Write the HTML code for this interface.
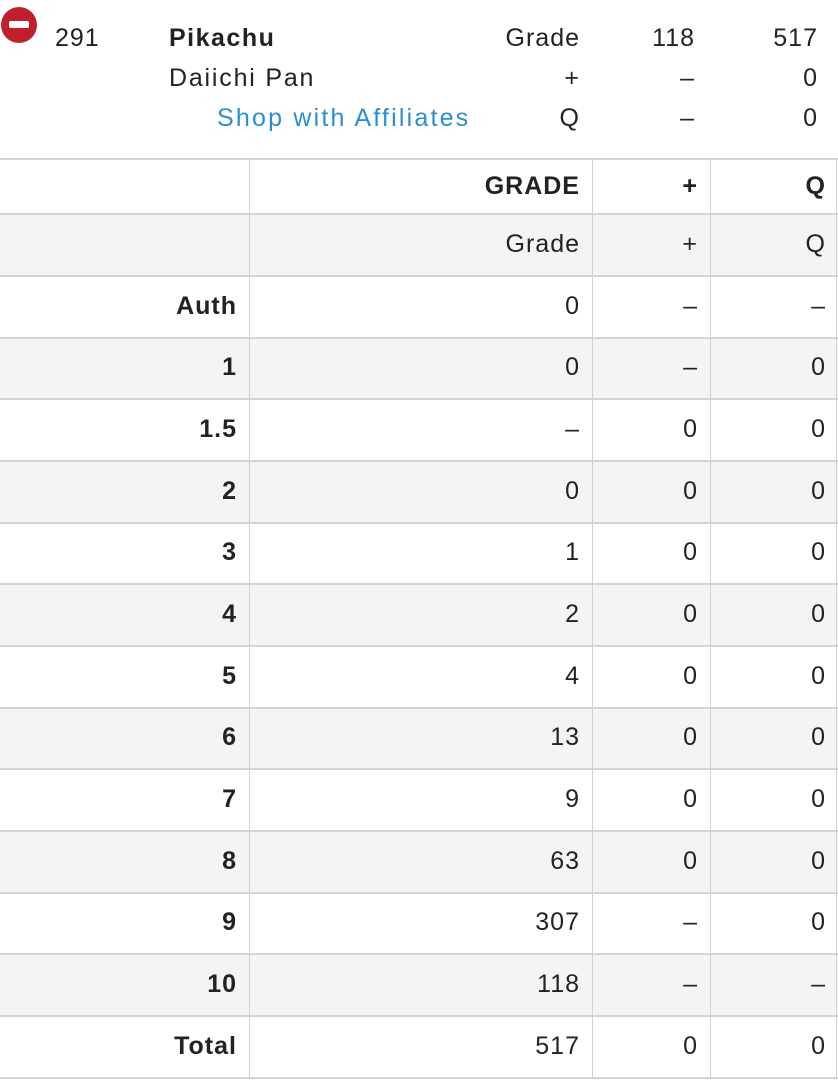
<!DOCTYPE html>
<html><head><meta charset="utf-8"><style>
*{margin:0;padding:0;box-sizing:border-box}
body{width:838px;height:1080px;background:#fff;position:relative;overflow:hidden;font-family:"Liberation Sans",sans-serif;color:#222}
.t{position:absolute;font-size:25px;line-height:30px;white-space:nowrap;letter-spacing:1px}
.r{text-align:right}
.b{font-weight:bold}
.row{position:absolute;left:0;width:838px;border-top:2px solid #d4d4d4}
.g{background:#f4f4f4}
.vl{position:absolute;top:159px;height:920px;width:1px;background:#d0d0d0}
.c0{right:601px;font-weight:bold}
.c1{right:258px}
.c2{right:140px}
.c3{right:12px}
</style></head><body>
<div style="position:absolute;left:1px;top:7px;width:36px;height:36px;border-radius:50%;background:#c0202c"></div>
<div style="position:absolute;left:9px;top:21px;width:20px;height:7px;border-radius:2px;background:#fff"></div>
<div class="t" style="left:55px;top:23px">291</div>
<div class="t b" style="left:169px;top:23px;letter-spacing:1.5px">Pikachu</div>
<div class="t" style="left:169px;top:63px;letter-spacing:1.8px">Daiichi Pan</div>
<div class="t" style="left:217px;top:103px;color:#2a8fd0;letter-spacing:2.2px">Shop with Affiliates</div>
<div class="t r" style="right:258px;top:23px">Grade</div>
<div class="t r" style="right:143px;top:23px">118</div>
<div class="t r" style="right:20px;top:23px">517</div>
<div class="t r" style="right:258px;top:63px">+</div>
<div class="t r" style="right:143px;top:63px">–</div>
<div class="t r" style="right:20px;top:63px">0</div>
<div class="t r" style="right:258px;top:103px">Q</div>
<div class="t r" style="right:143px;top:103px">–</div>
<div class="t r" style="right:20px;top:103px">0</div>

<div class="row" style="top:158px;height:55px"></div>
<div class="row g" style="top:213px;height:62px"></div>
<div class="row" style="top:275px;height:62px"></div>
<div class="row g" style="top:337px;height:61px"></div>
<div class="row" style="top:398px;height:62px"></div>
<div class="row g" style="top:460px;height:62px"></div>
<div class="row" style="top:522px;height:61px"></div>
<div class="row g" style="top:583px;height:62px"></div>
<div class="row" style="top:645px;height:62px"></div>
<div class="row g" style="top:707px;height:61px"></div>
<div class="row" style="top:768px;height:62px"></div>
<div class="row g" style="top:830px;height:62px"></div>
<div class="row" style="top:892px;height:61px"></div>
<div class="row g" style="top:953px;height:62px"></div>
<div class="row" style="top:1015px;height:62px"></div>
<div class="row" style="top:1077px;height:3px"></div>

<div class="t r b c1" style="top:171px">GRADE</div>
<div class="t r b c2" style="top:171px">+</div>
<div class="t r b c3" style="top:171px">Q</div>

<div class="t r c1" style="top:229px">Grade</div>
<div class="t r c2" style="top:229px">+</div>
<div class="t r c3" style="top:229px">Q</div>

<div class="t r c0" style="top:291px">Auth</div><div class="t r c1" style="top:291px">0</div><div class="t r c2" style="top:291px">–</div><div class="t r c3" style="top:291px">–</div>
<div class="t r c0" style="top:352px">1</div><div class="t r c1" style="top:352px">0</div><div class="t r c2" style="top:352px">–</div><div class="t r c3" style="top:352px">0</div>
<div class="t r c0" style="top:414px">1.5</div><div class="t r c1" style="top:414px">–</div><div class="t r c2" style="top:414px">0</div><div class="t r c3" style="top:414px">0</div>
<div class="t r c0" style="top:476px">2</div><div class="t r c1" style="top:476px">0</div><div class="t r c2" style="top:476px">0</div><div class="t r c3" style="top:476px">0</div>
<div class="t r c0" style="top:537px">3</div><div class="t r c1" style="top:537px">1</div><div class="t r c2" style="top:537px">0</div><div class="t r c3" style="top:537px">0</div>
<div class="t r c0" style="top:599px">4</div><div class="t r c1" style="top:599px">2</div><div class="t r c2" style="top:599px">0</div><div class="t r c3" style="top:599px">0</div>
<div class="t r c0" style="top:661px">5</div><div class="t r c1" style="top:661px">4</div><div class="t r c2" style="top:661px">0</div><div class="t r c3" style="top:661px">0</div>
<div class="t r c0" style="top:722px">6</div><div class="t r c1" style="top:722px">13</div><div class="t r c2" style="top:722px">0</div><div class="t r c3" style="top:722px">0</div>
<div class="t r c0" style="top:784px">7</div><div class="t r c1" style="top:784px">9</div><div class="t r c2" style="top:784px">0</div><div class="t r c3" style="top:784px">0</div>
<div class="t r c0" style="top:846px">8</div><div class="t r c1" style="top:846px">63</div><div class="t r c2" style="top:846px">0</div><div class="t r c3" style="top:846px">0</div>
<div class="t r c0" style="top:907px">9</div><div class="t r c1" style="top:907px">307</div><div class="t r c2" style="top:907px">–</div><div class="t r c3" style="top:907px">0</div>
<div class="t r c0" style="top:969px">10</div><div class="t r c1" style="top:969px">118</div><div class="t r c2" style="top:969px">–</div><div class="t r c3" style="top:969px">–</div>
<div class="t r c0" style="top:1031px">Total</div><div class="t r c1" style="top:1031px">517</div><div class="t r c2" style="top:1031px">0</div><div class="t r c3" style="top:1031px">0</div>

<div class="vl" style="left:249px"></div>
<div class="vl" style="left:592px"></div>
<div class="vl" style="left:710px"></div>
<div class="vl" style="left:836px"></div>
</body></html>
